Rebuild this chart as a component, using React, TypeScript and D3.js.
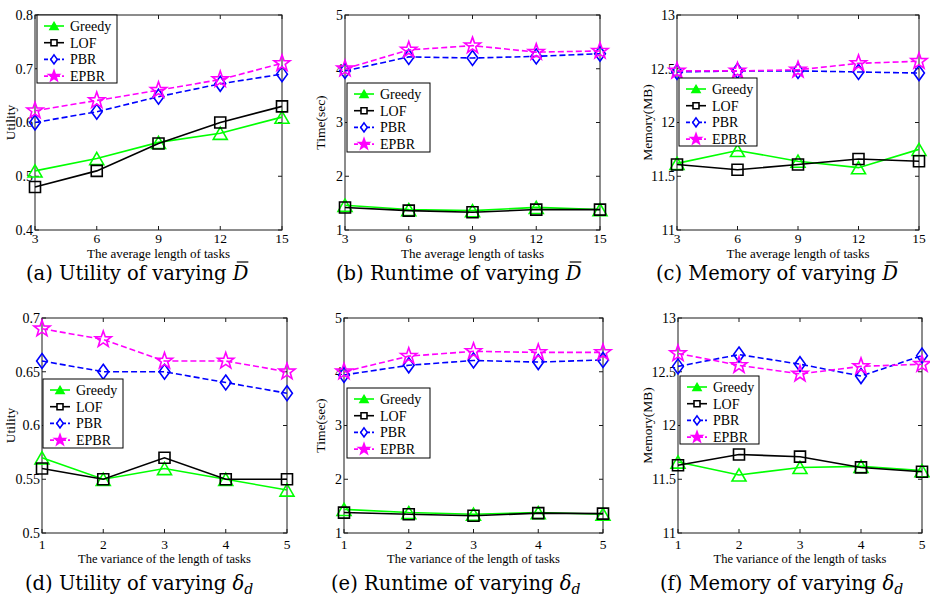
import React, { useLayoutEffect, useRef, useState } from "react";
import * as d3 from "d3";

// series shared by every panel
const seriesNames = ["Greedy", "LOF", "PBR", "EPBR"];
const seriesColors = ["#00ff00", "#000000", "#0000ff", "#ff00ff"];
const seriesDash = ["", "", "6,3", "6,3"];
const seriesMarkers = ["triangle", "square", "diamond", "star"];

// x values
const avgLength = [3, 6, 9, 12, 15];
const lengthVariance = [1, 2, 3, 4, 5];

// (a) utility vs average length
const utilLenGreedy = [0.51, 0.533, 0.563, 0.58, 0.61];
const utilLenLOF = [0.48, 0.51, 0.561, 0.6, 0.63];
const utilLenPBR = [0.6, 0.62, 0.648, 0.672, 0.69];
const utilLenEPBR = [0.622, 0.641, 0.66, 0.68, 0.71];

// (b) runtime vs average length
const timeLenGreedy = [1.46, 1.38, 1.36, 1.42, 1.38];
const timeLenLOF = [1.42, 1.36, 1.33, 1.38, 1.38];
const timeLenPBR = [3.96, 4.22, 4.2, 4.23, 4.28];
const timeLenEPBR = [4.0, 4.35, 4.43, 4.31, 4.33];

// (c) memory vs average length
const memLenGreedy = [11.62, 11.74, 11.64, 11.58, 11.75];
const memLenLOF = [11.61, 11.56, 11.61, 11.66, 11.64];
const memLenPBR = [12.47, 12.48, 12.48, 12.47, 12.46];
const memLenEPBR = [12.48, 12.48, 12.49, 12.55, 12.57];

// (d) utility vs variance
const utilVarGreedy = [0.57, 0.55, 0.56, 0.55, 0.54];
const utilVarLOF = [0.56, 0.55, 0.57, 0.55, 0.55];
const utilVarPBR = [0.66, 0.65, 0.65, 0.64, 0.63];
const utilVarEPBR = [0.69, 0.68, 0.66, 0.66, 0.65];

// (e) runtime vs variance
const timeVarGreedy = [1.44, 1.38, 1.35, 1.38, 1.35];
const timeVarLOF = [1.38, 1.35, 1.32, 1.37, 1.36];
const timeVarPBR = [3.94, 4.12, 4.21, 4.18, 4.22];
const timeVarEPBR = [4.0, 4.29, 4.38, 4.36, 4.36];

// (f) memory vs variance
const memVarGreedy = [11.66, 11.54, 11.61, 11.62, 11.58];
const memVarLOF = [11.63, 11.73, 11.71, 11.61, 11.57];
const memVarPBR = [12.55, 12.66, 12.57, 12.46, 12.65];
const memVarEPBR = [12.67, 12.56, 12.48, 12.55, 12.57];

// y tick labels
const utilLenTicks = ["0.4", "0.5", "0.6", "0.7", "0.8"];
const utilVarTicks = ["0.5", "0.55", "0.6", "0.65", "0.7"];
const timeTicks = ["1", "2", "3", "4", "5"];
const memTicks = ["11", "11.5", "12", "12.5", "13"];

const serif = "'Liberation Serif', 'Times New Roman', serif";
const capFont = "'DejaVu Serif', serif";

function markerPath(kind: string, s: number) {
  const p = d3.path();
  if (kind === "triangle") {
    const h = s * 0.87;
    p.moveTo(0, -h / 2);
    p.lineTo(s / 2, h / 2);
    p.lineTo(-s / 2, h / 2);
    p.closePath();
  } else if (kind === "square") {
    p.rect(-s / 2, -s / 2, s, s);
  } else if (kind === "diamond") {
    const w = s * 0.72;
    p.moveTo(0, -s / 2);
    p.lineTo(w / 2, 0);
    p.lineTo(0, s / 2);
    p.lineTo(-w / 2, 0);
    p.closePath();
  } else {
    const R = s / 2;
    const r = R * 0.4;
    for (let i = 0; i < 10; i++) {
      const a = -Math.PI / 2 + (i * Math.PI) / 5;
      const rr = i % 2 === 0 ? R : r;
      if (i === 0) p.moveTo(rr * Math.cos(a), rr * Math.sin(a));
      else p.lineTo(rr * Math.cos(a), rr * Math.sin(a));
    }
    p.closePath();
  }
  return p.toString();
}

const plotSize: Record<string, number> = { triangle: 14, square: 11, diamond: 15, star: 17 };
const legendSize: Record<string, number> = { triangle: 8, square: 6, diamond: 9, star: 11 };

type PanelDef = {
  xs: number[];
  series: number[][];
  yDomain: [number, number];
  yTicks: string[];
  yLabel: string;
  xLabel: string;
  box: { l: number; r: number; t: number; b: number };
  yLabelX: number;
  legend: { x: number; y: number; w: number; h: number };
  caption: string;
  capSym: "D" | "delta";
  capX: number;
  capY: number;
  tickOff: number;
  titleOff: number;
  titleSize: number;
};

const panels: PanelDef[] = [
  {
    xs: avgLength, series: [utilLenGreedy, utilLenLOF, utilLenPBR, utilLenEPBR],
    yDomain: [0.4, 0.8], yTicks: utilLenTicks, yLabel: "Utility", xLabel: "The average length of tasks",
    box: { l: 35, r: 282, t: 15, b: 230 }, yLabelX: 10, legend: { x: 37, y: 15, w: 80, h: 68 },
    caption: "(a) Utility of varying ", capSym: "D", capX: 26, capY: 280, tickOff: 13, titleOff: 28, titleSize: 13,
  },
  {
    xs: avgLength, series: [timeLenGreedy, timeLenLOF, timeLenPBR, timeLenEPBR],
    yDomain: [1, 5], yTicks: timeTicks, yLabel: "Time(sec)", xLabel: "The average length of tasks",
    box: { l: 345, r: 600, t: 15, b: 230 }, yLabelX: 320, legend: { x: 347, y: 83, w: 83, h: 69 },
    caption: "(b) Runtime of varying ", capSym: "D", capX: 336, capY: 280, tickOff: 13, titleOff: 28, titleSize: 13,
  },
  {
    xs: avgLength, series: [memLenGreedy, memLenLOF, memLenPBR, memLenEPBR],
    yDomain: [11, 13], yTicks: memTicks, yLabel: "Memory(MB)", xLabel: "The average length of tasks",
    box: { l: 677, r: 919, t: 15, b: 230 }, yLabelX: 647, legend: { x: 679, y: 78, w: 78, h: 68 },
    caption: "(c) Memory of varying ", capSym: "D", capX: 656, capY: 280, tickOff: 13, titleOff: 28, titleSize: 13,
  },
  {
    xs: lengthVariance, series: [utilVarGreedy, utilVarLOF, utilVarPBR, utilVarEPBR],
    yDomain: [0.5, 0.7], yTicks: utilVarTicks, yLabel: "Utility", xLabel: "The variance of the length of tasks",
    box: { l: 42, r: 287, t: 318, b: 533 }, yLabelX: 10, legend: { x: 43, y: 379, w: 80, h: 69 },
    caption: "(d) Utility of varying ", capSym: "delta", capX: 25, capY: 590, tickOff: 16, titleOff: 30, titleSize: 12.5,
  },
  {
    xs: lengthVariance, series: [timeVarGreedy, timeVarLOF, timeVarPBR, timeVarEPBR],
    yDomain: [1, 5], yTicks: timeTicks, yLabel: "Time(sec)", xLabel: "The variance of the length of tasks",
    box: { l: 344, r: 603, t: 318, b: 533 }, yLabelX: 320, legend: { x: 347, y: 388, w: 83, h: 70 },
    caption: "(e) Runtime of varying ", capSym: "delta", capX: 331, capY: 590, tickOff: 16, titleOff: 30, titleSize: 12.5,
  },
  {
    xs: lengthVariance, series: [memVarGreedy, memVarLOF, memVarPBR, memVarEPBR],
    yDomain: [11, 13], yTicks: memTicks, yLabel: "Memory(MB)", xLabel: "The variance of the length of tasks",
    box: { l: 678, r: 922, t: 318, b: 533 }, yLabelX: 647, legend: { x: 680, y: 376, w: 79, h: 68 },
    caption: "(f) Memory of varying ", capSym: "delta", capX: 660, capY: 590, tickOff: 16, titleOff: 30, titleSize: 12.5,
  },
];

function Caption({ p }: { p: PanelDef }) {
  const dRef = useRef<SVGTSpanElement>(null);
  const [bar, setBar] = useState<{ x1: number; x2: number; y: number } | null>(null);

  useLayoutEffect(() => {
    if (p.capSym === "D" && dRef.current) {
      const b = dRef.current.getBBox();
      setBar({ x1: b.x + b.width * 0.3, x2: b.x + b.width * 0.98, y: p.capY - 18 });
    }
  }, [p]);

  return (
    <g>
      <text x={p.capX} y={p.capY} fontSize={19.5} fontFamily={capFont} fill="#000">
        {p.caption}
        {p.capSym === "D" ? (
          <tspan ref={dRef} fontStyle="italic">D</tspan>
        ) : (
          <>
            <tspan fontStyle="italic">δ</tspan>
            <tspan fontStyle="italic" fontSize={14} dy={4}>d</tspan>
          </>
        )}
      </text>
      {bar && <line x1={bar.x1} x2={bar.x2} y1={bar.y} y2={bar.y} stroke="#000" strokeWidth={1.2} />}
    </g>
  );
}

function Panel({ p }: { p: PanelDef }) {
  const { box } = p;
  const x = d3.scaleLinear().domain([p.xs[0], p.xs[p.xs.length - 1]]).range([box.l, box.r]);
  const y = d3.scaleLinear().domain(p.yDomain).range([box.b, box.t]);
  const yTickVals = d3.range(p.yTicks.length).map(
    (i) => p.yDomain[0] + (i * (p.yDomain[1] - p.yDomain[0])) / (p.yTicks.length - 1)
  );
  const tl = 4;

  return (
    <g>
      {/* plot box with inward ticks on all sides */}
      <rect x={box.l} y={box.t} width={box.r - box.l} height={box.b - box.t} fill="#fff" stroke="#1a1a1a" strokeWidth={1} />
      {p.xs.map((v) => (
        <g key={"xt" + v}>
          <line x1={x(v)} x2={x(v)} y1={box.b} y2={box.b - tl} stroke="#1a1a1a" />
          <line x1={x(v)} x2={x(v)} y1={box.t} y2={box.t + tl} stroke="#1a1a1a" />
          <text x={x(v)} y={box.b + p.tickOff} textAnchor="middle" fontSize={13.5} fontFamily={serif}>{v}</text>
        </g>
      ))}
      {yTickVals.map((v, i) => (
        <g key={"yt" + i}>
          <line x1={box.l} x2={box.l + tl} y1={y(v)} y2={y(v)} stroke="#1a1a1a" />
          <line x1={box.r} x2={box.r - tl} y1={y(v)} y2={y(v)} stroke="#1a1a1a" />
          <text x={box.l - 2} y={y(v)} dy="0.35em" textAnchor="end" fontSize={14} fontFamily={serif}>{p.yTicks[i]}</text>
        </g>
      ))}
      <text x={(box.l + box.r) / 2} y={box.b + p.titleOff} textAnchor="middle" fontSize={p.titleSize} fontFamily={serif}>{p.xLabel}</text>
      <text transform={`translate(${p.yLabelX},${(box.t + box.b) / 2}) rotate(-90)`} dy="0.35em" textAnchor="middle" fontSize={13.5} fontFamily={serif}>{p.yLabel}</text>

      {/* series */}
      {p.series.map((vals, si) => {
        const line = d3.line<number>().x((_, i) => x(p.xs[i])).y((d) => y(d));
        return (
          <g key={"s" + si}>
            <path d={line(vals) || ""} fill="none" stroke={seriesColors[si]} strokeWidth={1.6} strokeDasharray={seriesDash[si] || undefined} />
            {vals.map((d, i) => (
              <path key={i} d={markerPath(seriesMarkers[si], plotSize[seriesMarkers[si]])} transform={`translate(${x(p.xs[i])},${y(d)})`} fill="none" stroke={seriesColors[si]} strokeWidth={1.6} />
            ))}
          </g>
        );
      })}

      {/* legend */}
      <rect x={p.legend.x} y={p.legend.y} width={p.legend.w} height={p.legend.h} fill="#fff" stroke="#000" strokeWidth={1} />
      {seriesNames.map((name, si) => {
        const ry = p.legend.y + 11 + si * 16.7;
        return (
          <g key={"l" + si}>
            <line x1={p.legend.x + 7} x2={p.legend.x + 27} y1={ry} y2={ry} stroke={seriesColors[si]} strokeWidth={1.6} strokeDasharray={seriesDash[si] ? "4,2" : undefined} />
            <path d={markerPath(seriesMarkers[si], legendSize[seriesMarkers[si]])} transform={`translate(${p.legend.x + 17},${ry})`} fill={si === 0 || si === 3 ? seriesColors[si] : "#fff"} stroke={seriesColors[si]} strokeWidth={1.6} />
            <text x={p.legend.x + 33} y={ry} dy="0.35em" fontSize={14} fontFamily={serif}>{name}</text>
          </g>
        );
      })}

      <Caption p={p} />
    </g>
  );
}

export default function App() {
  return (
    <svg width={930} height={596} style={{ position: "absolute", left: 0, top: 0, background: "#fff" }}>
      <rect width={930} height={596} fill="#fff" />
      {panels.map((p, i) => (
        <Panel key={i} p={p} />
      ))}
    </svg>
  );
}
